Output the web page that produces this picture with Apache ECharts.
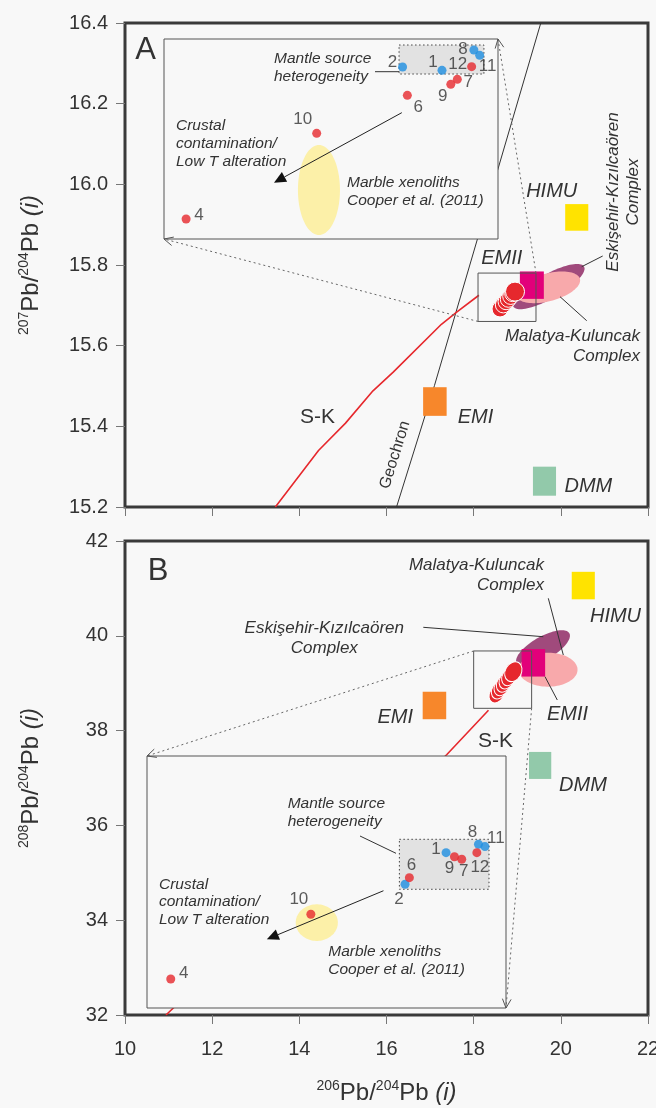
<!DOCTYPE html>
<html>
<head>
<meta charset="utf-8">
<script src="https://cdn.jsdelivr.net/npm/echarts/dist/echarts.min.js"></script>
<style>html,body{margin:0;padding:0;background:#f8f8f8;}#chart{width:656px;height:1108px;}</style>
</head>
<body>
<div id="chart"></div>
<script>
// ---------------- DATA ----------------
const sampleIds   = [1, 2, 4, 6, 7, 8, 9, 10, 11, 12];
const sampleGroup = ['blue','blue','red','red','red','blue','red','red','blue','red'];
// inset of panel A: 206Pb/204Pb vs 207Pb/204Pb
const insetA_206 = [19.207, 19.050, 18.188, 19.069, 19.268, 19.334, 19.242, 18.708, 19.357, 19.325];
const insetA_207 = [15.7612, 15.7632, 15.6720, 15.7462, 15.7558, 15.7734, 15.7528, 15.7234, 15.7702, 15.7634];
// inset of panel B: 206Pb/204Pb vs 208Pb/204Pb
const insetB_206 = [19.108, 18.956, 18.088, 18.972, 19.166, 19.228, 19.139, 18.607, 19.252, 19.222];
const insetB_208 = [39.216, 39.064, 38.609, 39.096, 39.184, 39.256, 39.196, 38.920, 39.245, 39.216];

// zoomed windows (small boxes in main panels = extent of insets)
const zoomA_206 = [18.10, 19.43];
const zoomA_207 = [15.66, 15.78];
const zoomB_206 = [18.00, 19.33];
const zoomB_208 = [38.47, 39.68];

// stacked sample circles in main panels
const clusterA_206 = [18.605, 18.681, 18.743, 18.795, 18.850, 18.896, 18.949];
const clusterA_207 = [15.691, 15.701, 15.709, 15.715, 15.722, 15.729, 15.734];
const clusterB_206 = [18.529, 18.582, 18.644, 18.697, 18.759, 18.818, 18.910];
const clusterB_208 = [38.772, 38.857, 38.926, 38.998, 39.068, 39.137, 39.243];

// mantle end-members (boxes: min/max)
const endMembers = ['HIMU', 'EMII', 'EMI', 'DMM'];
const emA_206min = [20.10, 19.06, 16.84, 19.36];
const emA_206max = [20.63, 19.61, 17.38, 19.89];
const emA_207min = [15.885, 15.716, 15.426, 15.228];
const emA_207max = [15.951, 15.784, 15.497, 15.300];
const emB_206min = [20.25, 19.10, 16.83, 19.27];
const emB_206max = [20.78, 19.64, 17.37, 19.78];
const emB_208min = [40.77, 39.14, 38.24, 36.98];
const emB_208max = [41.35, 39.72, 38.82, 37.55];

// reference fields (ellipses: centre, tip of major semi-axis, minor/major ratio)
const fieldNames = ['Eskişehir-Kızılcaören Complex', 'Malatya-Kuluncak Complex'];
const fieldA_cx = [19.721, 19.706], fieldA_cy = [15.7465, 15.7446];
const fieldA_tx = [20.532, 20.438], fieldA_ty = [15.7960, 15.7656];
const fieldA_ratio = [0.30, 0.42];
const fieldB_cx = [19.591, 19.706], fieldB_cy = [39.736, 39.285];
const fieldB_tx = [20.195, 20.383], fieldB_ty = [40.053, 39.285];
const fieldB_ratio = [0.38, 0.576];
// marble xenoliths (Cooper et al. 2011) in insets
const marbleA = [18.717, 15.6894, 18.717, 15.7164, 0.467];
const marbleB = [18.629, 38.880, 18.707, 38.880, 0.87];
// mantle source heterogeneity boxes and crustal contamination trends (inset coords)
const heteroA = [19.036, 19.374, 15.759, 15.7764];
const heteroB = [18.935, 19.267, 39.040, 39.280];
const trendA = [19.047, 15.7358, 18.538, 15.6938];
const trendB = [18.876, 39.033, 18.444, 38.800];

// reference curves
const geochron_206 = [16.23, 17.10, 19.54];
const geochron_207 = [15.20, 15.501, 16.40];
const skA_206 = [13.45, 14.44, 15.06, 15.69, 16.16, 17.26, 17.61, 18.12];
const skA_207 = [15.20, 15.340, 15.408, 15.488, 15.535, 15.653, 15.683, 15.725];
const skB_206 = [10.94, 11.34, 17.38, 18.34];
const skB_208 = [32.00, 32.35, 37.49, 38.43];

// axis ticks
const xTicks = {min: 10, max: 22, interval: 2};
const yTicksA = {min: 15.2, max: 16.4, interval: 0.2};
const yTicksB = {min: 32, max: 42, interval: 2};

// ---------------- STYLE / LAYOUT ----------------
const BG = '#f8f8f8';
const FONT = '"Liberation Sans", Arial, Helvetica, sans-serif';
const TXT = '#333';
const GROUP_COLOR = {blue: '#1e8fe1', red: '#e6282d'};
const EM_COLOR = {HIMU: '#ffe300', EMII: '#e2007a', EMI: '#f7872b', DMM: '#92c9aa'};
const FIELD_COLOR = ['#a04a7c', '#f8a9ab'];
const LABEL_OFFSET_A = {1:[-9,-8], 2:[-10,-5], 4:[13,-4], 6:[11,12], 7:[11,3], 8:[-11,-1], 9:[-8,12], 10:[-14,-14], 11:[8,11], 12:[-14,-2]};
const LABEL_OFFSET_B = {1:[-10,-3], 2:[-6,15], 4:[13,-6], 6:[2,-12], 7:[2,12], 8:[-6,-12], 9:[-5,12], 10:[-12,-15], 11:[11,-8], 12:[3,15]};
const GRID_A = {left:125, top:23, width:523, height:484};
const GRID_B = {left:125, top:541, width:523, height:474};
const INSET_A = {left:164, top:39, width:334, height:200};
const INSET_B = {left:147, top:756, width:359, height:252};

// ---------------- HELPERS ----------------
function rectRender(styleFn) {
  return function (params, api) {
    const p0 = api.coord([api.value(0), api.value(3)]);
    const p1 = api.coord([api.value(1), api.value(2)]);
    return {type: 'rect', shape: {x: p0[0], y: p0[1], width: p1[0] - p0[0], height: p1[1] - p0[1]},
            style: styleFn(params.dataIndex)};
  };
}
function ellipseRender(colorFn) {
  return function (params, api) {
    const c = api.coord([api.value(0), api.value(1)]);
    const t = api.coord([api.value(2), api.value(3)]);
    const r = api.value(4);
    const dx = t[0] - c[0], dy = t[1] - c[1];
    const a = Math.hypot(dx, dy), th = Math.atan2(dy, dx), b = a * r;
    const pts = [];
    for (let i = 0; i < 90; i++) {
      const f = i / 90 * 2 * Math.PI, u = a * Math.cos(f), v = b * Math.sin(f);
      pts.push([c[0] + u * Math.cos(th) - v * Math.sin(th), c[1] + u * Math.sin(th) + v * Math.cos(th)]);
    }
    return {type: 'polygon', shape: {points: pts}, style: {fill: colorFn(params.dataIndex)}};
  };
}
function arrowRender(params, api) {
  const s = api.coord([api.value(0), api.value(1)]);
  const e = api.coord([api.value(2), api.value(3)]);
  const ang = Math.atan2(e[1] - s[1], e[0] - s[0]);
  const L = 12, W = 5.5;
  const bx = e[0] - L * Math.cos(ang), by = e[1] - L * Math.sin(ang);
  const tri = [[e[0], e[1]], [bx - W * Math.sin(ang), by + W * Math.cos(ang)], [bx + W * Math.sin(ang), by - W * Math.cos(ang)]];
  return {type: 'group', children: [
    {type: 'line', shape: {x1: s[0], y1: s[1], x2: bx, y2: by}, style: {stroke: '#222', lineWidth: 1}},
    {type: 'polygon', shape: {points: tri}, style: {fill: '#111'}}
  ]};
}
const zip = (a, b) => a.map((v, i) => [v, b[i]]);

const nameRich = {
  n:   {fontSize: 24, lineHeight: 28, fontFamily: FONT, color: TXT},
  it:  {fontSize: 24, lineHeight: 28, fontFamily: FONT, color: TXT, fontStyle: 'italic'},
  sup: {fontSize: 14, lineHeight: 12, fontFamily: FONT, color: TXT, verticalAlign: 'top'}
};
const nameStyle = {fontFamily: FONT, fontSize: 24, color: TXT, rich: nameRich};

function mainX(gridIndex, showLabels) {
  return {type: 'value', gridIndex, min: xTicks.min, max: xTicks.max, interval: xTicks.interval,
    axisLine: {show: false}, splitLine: {show: false},
    axisTick: {show: true, inside: false, length: 9, lineStyle: {color: '#777', width: 1}},
    axisLabel: {show: showLabels, fontSize: 20, color: TXT, fontFamily: FONT, margin: 24},
    name: showLabels ? '{sup|206}{n|Pb/}{sup|204}{n|Pb }{it|(i)}' : '',
    nameLocation: 'middle', nameGap: 64, nameTextStyle: nameStyle};
}
function mainY(gridIndex, t, fmt, name) {
  return {type: 'value', gridIndex, min: t.min, max: t.max, interval: t.interval,
    axisLine: {show: false}, splitLine: {show: false},
    axisTick: {show: true, inside: false, length: 9, lineStyle: {color: '#777', width: 1}},
    axisLabel: {fontSize: 20, color: TXT, fontFamily: FONT, margin: 17, formatter: fmt},
    name, nameLocation: 'middle', nameGap: 80, nameRotate: 90, nameTextStyle: nameStyle};
}
function hiddenAxis(gridIndex, range) {
  return {type: 'value', gridIndex, min: range[0], max: range[1], show: false,
          axisLine: {show: false}, axisTick: {show: false}, axisLabel: {show: false}, splitLine: {show: false}};
}
function gridOf(g, frame) {
  return Object.assign({containLabel: false, outerBoundsMode: 'none',
    show: frame, backgroundColor: frame ? BG : 'transparent', borderColor: '#3a3a3a', borderWidth: frame ? 3 : 0}, g);
}

function panelSeries(gi, d) {
  const ax = {xAxisIndex: gi, yAxisIndex: gi};
  const list = [];
  if (d.geo) list.push(Object.assign({type: 'line', data: d.geo, symbol: 'none', z: 2, silent: true,
    lineStyle: {color: '#333', width: 1}}, ax));
  list.push(Object.assign({type: 'line', data: d.sk, symbol: 'none', z: 2, silent: true,
    lineStyle: {color: '#e6282d', width: 1.6}}, ax));
  list.push(Object.assign({type: 'custom', data: d.fields, z: 3, silent: true,
    renderItem: ellipseRender(i => FIELD_COLOR[i])}, ax));
  list.push(Object.assign({type: 'custom', data: d.em, z: 4, silent: true,
    renderItem: rectRender(i => ({fill: EM_COLOR[endMembers[i]]}))}, ax));
  list.push(Object.assign({type: 'scatter', data: d.cluster, z: 5, silent: true,
    symbol: 'circle', symbolSize: d.csize, symbolRotate: d.crot,
    itemStyle: {color: '#e6282d', borderColor: '#ffffff', borderWidth: 1, opacity: 1}}, ax));
  list.push(Object.assign({type: 'custom', data: [d.zoom], z: 6, silent: true,
    renderItem: rectRender(() => ({fill: 'none', stroke: '#555', lineWidth: 1}))}, ax));
  return list;
}
function insetSeries(gi, d) {
  const ax = {xAxisIndex: gi, yAxisIndex: gi};
  return [
    Object.assign({type: 'custom', data: [d.frame], z: 7, silent: true,
      renderItem: rectRender(() => ({fill: BG, stroke: '#555', lineWidth: 1}))}, ax),
    Object.assign({type: 'custom', data: [d.marble], z: 8, silent: true,
      renderItem: ellipseRender(() => '#fcf0a8')}, ax),
    Object.assign({type: 'custom', data: [d.hetero], z: 8, silent: true,
      renderItem: rectRender(() => ({fill: '#e2e2e2', stroke: '#444', lineWidth: 1, lineDash: [1.5, 2.5]}))}, ax),
    Object.assign({type: 'custom', data: [d.trend], z: 9, silent: true, renderItem: arrowRender}, ax),
    Object.assign({type: 'scatter', z: 10, silent: true, symbol: 'circle', symbolSize: 9,
      data: sampleIds.map((id, i) => ({value: [d.x[i], d.y[i]], label: {offset: d.off[id]},
        itemStyle: {color: GROUP_COLOR[sampleGroup[i]]}})),
      label: {show: true, position: 'inside', formatter: p => String(sampleIds[p.dataIndex]),
        color: TXT, fontSize: 17, fontFamily: FONT}}, ax)
  ];
}

const series = [].concat(
  panelSeries(0, {
    geo: zip(geochron_206, geochron_207), sk: zip(skA_206, skA_207),
    fields: fieldNames.map((n, i) => [fieldA_cx[i], fieldA_cy[i], fieldA_tx[i], fieldA_ty[i], fieldA_ratio[i]]),
    em: endMembers.map((n, i) => [emA_206min[i], emA_206max[i], emA_207min[i], emA_207max[i]]),
    cluster: zip(clusterA_206, clusterA_207),
    csize: (v, p) => p.dataIndex === clusterA_206.length - 1 ? 19 : 16, crot: 0,
    zoom: [zoomA_206[0], zoomA_206[1], zoomA_207[0], zoomA_207[1]]
  }),
  panelSeries(1, {
    geo: null, sk: zip(skB_206, skB_208),
    fields: fieldNames.map((n, i) => [fieldB_cx[i], fieldB_cy[i], fieldB_tx[i], fieldB_ty[i], fieldB_ratio[i]]),
    em: endMembers.map((n, i) => [emB_206min[i], emB_206max[i], emB_208min[i], emB_208max[i]]),
    cluster: zip(clusterB_206, clusterB_208),
    csize: (v, p) => p.dataIndex === clusterB_206.length - 1 ? [16, 21] : [14, 19], crot: -30,
    zoom: [zoomB_206[0], zoomB_206[1], zoomB_208[0], zoomB_208[1]]
  }),
  insetSeries(2, {frame: [zoomA_206[0], zoomA_206[1], zoomA_207[0], zoomA_207[1]],
    marble: marbleA, hetero: heteroA, trend: trendA, x: insetA_206, y: insetA_207, off: LABEL_OFFSET_A}),
  insetSeries(3, {frame: [zoomB_206[0], zoomB_206[1], zoomB_208[0], zoomB_208[1]],
    marble: marbleB, hetero: heteroB, trend: trendB, x: insetB_206, y: insetB_208, off: LABEL_OFFSET_B})
);

const option = {
  backgroundColor: BG,
  animation: false,
  grid: [gridOf(GRID_A, true), gridOf(GRID_B, true), gridOf(INSET_A, false), gridOf(INSET_B, false)],
  xAxis: [mainX(0, false), mainX(1, true), hiddenAxis(2, zoomA_206), hiddenAxis(3, zoomB_206)],
  yAxis: [
    mainY(0, yTicksA, v => v.toFixed(1), '{sup|207}{n|Pb/}{sup|204}{n|Pb }{it|(i)}'),
    mainY(1, yTicksB, v => String(Math.round(v)), '{sup|208}{n|Pb/}{sup|204}{n|Pb }{it|(i)}'),
    hiddenAxis(2, zoomA_207), hiddenAxis(3, zoomB_208)
  ],
  series
};

const chart = echarts.init(document.getElementById('chart'));
chart.setOption(option);

// ---------------- ANNOTATIONS ----------------
function T(x, y, text, o) {
  o = o || {};
  return {type: 'text', x, y, z: 20, silent: true, rotation: o.rot || 0,
    style: {text, fill: TXT, fontFamily: FONT, fontSize: o.size || 15.5,
      fontStyle: o.italic === false ? 'normal' : 'italic',
      align: o.align || 'left', verticalAlign: 'middle', lineHeight: o.lh || 18}};
}
function L(x1, y1, x2, y2, dash) {
  return {type: 'line', z: 20, silent: true, shape: {x1, y1, x2, y2},
    style: {stroke: dash ? '#666' : '#333', lineWidth: 1, lineDash: dash ? [2, 3] : null}};
}
function dotted(from, to) {
  const ang = Math.atan2(to[1] - from[1], to[0] - from[0]);
  const len = 10, sp = 0.45;
  const a1 = [to[0] - len * Math.cos(ang - sp), to[1] - len * Math.sin(ang - sp)];
  const a2 = [to[0] - len * Math.cos(ang + sp), to[1] - len * Math.sin(ang + sp)];
  return [L(from[0], from[1], to[0], to[1], true),
    {type: 'polyline', z: 20, silent: true, shape: {points: [a1, to, a2]}, style: {stroke: '#555', lineWidth: 1, fill: null}}];
}
const px = (gi, p) => chart.convertToPixel({gridIndex: gi}, p);

const g = [];
// panel A
g.push(T(145.5, 50, 'A', {size: 31, italic: false, align: 'center'}));
g.push(T(274, 68, 'Mantle source\nheterogeneity', {lh: 18}));
g.push(L(375, 71.7, 399, 71.7));
g.push(T(176, 144, 'Crustal\ncontamination/\nLow T alteration', {lh: 18}));
g.push(T(347, 191.5, 'Marble xenoliths\nCooper et al. (2011)', {lh: 17.5}));
g.push(T(551.7, 191.7, 'HIMU', {size: 20, align: 'center'}));
g.push(T(501.7, 258.3, 'EMII', {size: 20, align: 'center'}));
g.push(T(475.5, 417.5, 'EMI', {size: 20, align: 'center'}));
g.push(T(588.4, 486, 'DMM', {size: 20, align: 'center'}));
g.push(T(317.6, 417.7, 'S-K', {size: 21, italic: false, align: 'center'}));
g.push(T(395, 455, 'Geochron', {size: 16, italic: false, align: 'center', rot: 72.6 * Math.PI / 180}));
g.push(T(623, 192, 'Eskişehir-Kızılcaören\nComplex', {size: 17, align: 'center', lh: 20, rot: Math.PI / 2}));
g.push(L(581.7, 266.7, 602.7, 256));
g.push(T(640, 346.7, 'Malatya-Kuluncak\nComplex', {size: 17, align: 'right', lh: 20}));
g.push(L(560, 296.7, 586.7, 320.7));
// panel B
g.push(T(158, 571, 'B', {size: 31, italic: false, align: 'center'}));
g.push(T(544, 575, 'Malatya-Kuluncak\nComplex', {size: 17, align: 'right', lh: 20}));
g.push(L(548.3, 598.3, 563.3, 655));
g.push(T(324.3, 638, 'Eskişehir-Kızılcaören\nComplex', {size: 17, align: 'center', lh: 20}));
g.push(L(423.3, 627.3, 543.3, 636.7));
g.push(T(615.5, 616, 'HIMU', {size: 20, align: 'center'}));
g.push(T(567.5, 714, 'EMII', {size: 20, align: 'center'}));
g.push(L(545, 676.7, 557.3, 700));
g.push(T(395.3, 717.5, 'EMI', {size: 20, align: 'center'}));
g.push(T(583, 785, 'DMM', {size: 20, align: 'center'}));
g.push(T(495.5, 741, 'S-K', {size: 21, italic: false, align: 'center'}));
g.push(T(287.7, 813, 'Mantle source\nheterogeneity', {lh: 18}));
g.push(L(360, 836, 396, 853.3));
g.push(T(159, 902, 'Crustal\ncontamination/\nLow T alteration', {lh: 17.5}));
g.push(T(328.3, 960.5, 'Marble xenoliths\nCooper et al. (2011)', {lh: 17.5}));
// dotted connectors from zoom boxes to insets
g.push(...dotted(px(0, [zoomA_206[1], zoomA_207[1]]), [INSET_A.left + INSET_A.width, INSET_A.top]));
g.push(...dotted(px(0, [zoomA_206[0], zoomA_207[0]]), [INSET_A.left, INSET_A.top + INSET_A.height]));
g.push(...dotted(px(1, [zoomB_206[0], zoomB_208[1]]), [INSET_B.left, INSET_B.top]));
g.push(...dotted(px(1, [zoomB_206[1], zoomB_208[0]]), [INSET_B.left + INSET_B.width, INSET_B.top + INSET_B.height]));

chart.setOption({graphic: g});
</script>
</body>
</html>
